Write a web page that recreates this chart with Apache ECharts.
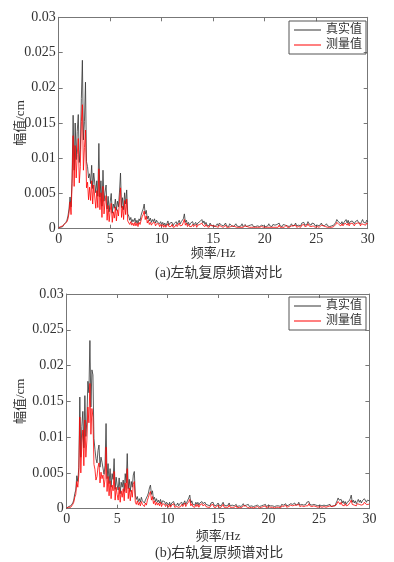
<!DOCTYPE html>
<html>
<head>
<meta charset="utf-8">
<script src="https://cdn.jsdelivr.net/npm/echarts@6/dist/echarts.min.js"></script>
<style>
  html, body { margin: 0; padding: 0; background: #fff; }
  #container { width: 394px; height: 562px; }
</style>
</head>
<body>
<div id="container"></div>
<script>
// frequency bins, 0.1 Hz from 0 to 30 Hz
var freq = [];
for (var k = 0; k <= 300; k++) { freq.push(+(k * 0.1).toFixed(1)); }

var xTicks = [0, 5, 10, 15, 20, 25, 30];
var yTicks = [0, 0.005, 0.01, 0.015, 0.02, 0.025, 0.03];
var legendNames = ['真实值', '测量值'];

// (a) left rail, amplitude in cm, one row = 1 Hz
var leftReal = [
  0.0002,0.0003,0.0002,0.0004,0.0003,0.0006,0.0005,0.0009,0.0012,0.0018,
  0.0028,0.0045,0.0031,0.0072,0.0161,0.0083,0.0150,0.0098,0.0138,0.0162,
  0.0094,0.0112,0.0185,0.0239,0.0126,0.0152,0.0208,0.0095,0.0088,0.0072,
  0.0078,0.0064,0.0090,0.0057,0.0079,0.0077,0.0051,0.0068,0.0046,0.0121,
  0.0045,0.0068,0.0032,0.0083,0.0039,0.0052,0.0062,0.0028,0.0046,0.0024,
  0.0038,0.0050,0.0022,0.0035,0.0029,0.0042,0.0026,0.0039,0.0031,0.0052,
  0.0079,0.0030,0.0044,0.0027,0.0051,0.0035,0.0055,0.0021,0.0018,0.0012,
  0.0016,0.0009,0.0013,0.0010,0.0015,0.0008,0.0012,0.0007,0.0014,0.0011,
  0.0019,0.0024,0.0028,0.0035,0.0021,0.0026,0.0014,0.0018,0.0011,0.0015,
  0.0009,0.0013,0.0010,0.0014,0.0008,0.0012,0.0009,0.0011,0.0007,0.0010,
  0.0006,0.0009,0.0005,0.0008,0.0004,0.0007,0.0011,0.0005,0.0008,0.0006,
  0.0009,0.0004,0.0007,0.0005,0.0010,0.0006,0.0008,0.0012,0.0007,0.0010,
  0.0008,0.0014,0.0021,0.0009,0.0012,0.0006,0.0009,0.0005,0.0008,0.0006,
  0.0010,0.0005,0.0007,0.0009,0.0005,0.0008,0.0006,0.0010,0.0009,0.0013,
  0.0008,0.0011,0.0006,0.0009,0.0005,0.0007,0.0004,0.0008,0.0005,0.0007,
  0.0004,0.0006,0.0003,0.0005,0.0007,0.0004,0.0008,0.0010,0.0005,0.0007,
  0.0004,0.0006,0.0008,0.0004,0.0006,0.0003,0.0007,0.0005,0.0004,0.0006,
  0.0003,0.0005,0.0007,0.0004,0.0006,0.0003,0.0005,0.0004,0.0007,0.0003,
  0.0004,0.0006,0.0003,0.0005,0.0004,0.0003,0.0005,0.0004,0.0006,0.0003,
  0.0004,0.0003,0.0005,0.0004,0.0006,0.0003,0.0004,0.0005,0.0003,0.0004,
  0.0006,0.0003,0.0005,0.0004,0.0007,0.0004,0.0005,0.0003,0.0006,0.0004,
  0.0005,0.0003,0.0006,0.0004,0.0008,0.0004,0.0005,0.0003,0.0006,0.0004,
  0.0005,0.0007,0.0004,0.0006,0.0003,0.0005,0.0007,0.0004,0.0006,0.0005,
  0.0008,0.0004,0.0006,0.0005,0.0007,0.0004,0.0008,0.0006,0.0009,0.0005,
  0.0007,0.0006,0.0010,0.0007,0.0009,0.0005,0.0008,0.0006,0.0007,0.0004,
  0.0006,0.0005,0.0007,0.0004,0.0006,0.0008,0.0005,0.0006,0.0004,0.0005,
  0.0007,0.0004,0.0005,0.0003,0.0005,0.0004,0.0003,0.0005,0.0004,0.0009,
  0.0013,0.0015,0.0009,0.0011,0.0007,0.0010,0.0006,0.0009,0.0011,0.0013,
  0.0008,0.0012,0.0007,0.0010,0.0008,0.0011,0.0013,0.0007,0.0010,0.0008,
  0.0012,0.0009,0.0011,0.0007,0.0010,0.0013,0.0009,0.0011,0.0008,0.0012,
  0.0010
];
var leftMeas = [
  0.0001,0.0002,0.0003,0.0002,0.0004,0.0003,0.0007,0.0005,0.0010,0.0014,
  0.0022,0.0038,0.0020,0.0064,0.0132,0.0060,0.0118,0.0072,0.0105,0.0128,
  0.0065,0.0088,0.0152,0.0176,0.0083,0.0115,0.0140,0.0058,0.0066,0.0041,
  0.0059,0.0040,0.0068,0.0035,0.0062,0.0061,0.0029,0.0054,0.0030,0.0085,
  0.0027,0.0051,0.0016,0.0060,0.0021,0.0038,0.0047,0.0012,0.0033,0.0010,
  0.0026,0.0036,0.0009,0.0024,0.0015,0.0031,0.0011,0.0027,0.0018,0.0039,
  0.0058,0.0016,0.0032,0.0013,0.0040,0.0020,0.0042,0.0011,0.0009,0.0006,
  0.0010,0.0005,0.0008,0.0004,0.0009,0.0004,0.0008,0.0003,0.0009,0.0006,
  0.0012,0.0017,0.0020,0.0025,0.0013,0.0018,0.0008,0.0012,0.0006,0.0009,
  0.0005,0.0008,0.0006,0.0009,0.0004,0.0007,0.0005,0.0007,0.0003,0.0006,
  0.0003,0.0006,0.0002,0.0005,0.0002,0.0004,0.0007,0.0003,0.0005,0.0003,
  0.0006,0.0002,0.0004,0.0003,0.0006,0.0003,0.0005,0.0008,0.0004,0.0006,
  0.0005,0.0009,0.0013,0.0005,0.0008,0.0003,0.0006,0.0003,0.0005,0.0003,
  0.0006,0.0003,0.0004,0.0006,0.0002,0.0005,0.0003,0.0006,0.0005,0.0008,
  0.0005,0.0007,0.0003,0.0006,0.0003,0.0004,0.0002,0.0005,0.0003,0.0004,
  0.0002,0.0004,0.0002,0.0003,0.0005,0.0002,0.0005,0.0006,0.0003,0.0004,
  0.0002,0.0004,0.0005,0.0002,0.0004,0.0002,0.0004,0.0003,0.0002,0.0004,
  0.0002,0.0003,0.0004,0.0002,0.0004,0.0002,0.0003,0.0002,0.0004,0.0002,
  0.0002,0.0004,0.0002,0.0003,0.0002,0.0002,0.0003,0.0002,0.0004,0.0002,
  0.0002,0.0002,0.0003,0.0002,0.0004,0.0002,0.0002,0.0003,0.0002,0.0002,
  0.0004,0.0002,0.0003,0.0002,0.0004,0.0002,0.0003,0.0002,0.0004,0.0002,
  0.0003,0.0002,0.0004,0.0002,0.0005,0.0002,0.0003,0.0002,0.0004,0.0002,
  0.0003,0.0005,0.0002,0.0004,0.0002,0.0003,0.0004,0.0002,0.0004,0.0003,
  0.0005,0.0002,0.0004,0.0003,0.0005,0.0002,0.0005,0.0004,0.0006,0.0003,
  0.0004,0.0004,0.0007,0.0004,0.0006,0.0003,0.0005,0.0004,0.0004,0.0002,
  0.0004,0.0003,0.0005,0.0002,0.0004,0.0005,0.0003,0.0004,0.0002,0.0003,
  0.0004,0.0002,0.0003,0.0002,0.0003,0.0002,0.0002,0.0003,0.0002,0.0006,
  0.0009,0.0010,0.0006,0.0008,0.0004,0.0007,0.0004,0.0006,0.0008,0.0009,
  0.0005,0.0008,0.0004,0.0007,0.0005,0.0008,0.0009,0.0004,0.0007,0.0005,
  0.0008,0.0006,0.0008,0.0004,0.0007,0.0009,0.0006,0.0008,0.0005,0.0008,
  0.0007
];

// (b) right rail
var rightReal = [
  0.0001,0.0002,0.0003,0.0002,0.0004,0.0005,0.0008,0.0012,0.0021,0.0026,
  0.0046,0.0038,0.0058,0.0156,0.0072,0.0115,0.0136,0.0085,0.0158,0.0101,
  0.0124,0.0178,0.0162,0.0235,0.0142,0.0194,0.0187,0.0098,0.0083,0.0070,
  0.0064,0.0081,0.0089,0.0058,0.0072,0.0065,0.0067,0.0048,0.0060,0.0119,
  0.0042,0.0063,0.0035,0.0056,0.0030,0.0049,0.0041,0.0070,0.0027,0.0044,
  0.0033,0.0026,0.0043,0.0021,0.0037,0.0030,0.0040,0.0024,0.0049,0.0036,
  0.0077,0.0028,0.0041,0.0024,0.0038,0.0030,0.0047,0.0052,0.0019,0.0013,
  0.0017,0.0010,0.0014,0.0009,0.0016,0.0011,0.0013,0.0008,0.0012,0.0010,
  0.0018,0.0022,0.0029,0.0033,0.0020,0.0025,0.0013,0.0016,0.0010,0.0014,
  0.0009,0.0012,0.0008,0.0013,0.0007,0.0011,0.0009,0.0010,0.0006,0.0009,
  0.0007,0.0005,0.0009,0.0004,0.0008,0.0006,0.0010,0.0005,0.0007,0.0005,
  0.0008,0.0004,0.0007,0.0006,0.0009,0.0005,0.0008,0.0011,0.0006,0.0009,
  0.0012,0.0015,0.0019,0.0008,0.0011,0.0006,0.0008,0.0005,0.0009,0.0006,
  0.0009,0.0005,0.0008,0.0006,0.0010,0.0007,0.0005,0.0009,0.0006,0.0008,
  0.0005,0.0007,0.0004,0.0008,0.0006,0.0009,0.0005,0.0007,0.0004,0.0006,
  0.0008,0.0005,0.0007,0.0004,0.0006,0.0009,0.0005,0.0007,0.0004,0.0006,
  0.0005,0.0008,0.0004,0.0006,0.0005,0.0007,0.0004,0.0005,0.0006,0.0003,
  0.0005,0.0004,0.0006,0.0003,0.0005,0.0007,0.0004,0.0006,0.0005,0.0004,
  0.0006,0.0003,0.0005,0.0004,0.0006,0.0003,0.0005,0.0004,0.0003,0.0005,
  0.0004,0.0003,0.0005,0.0004,0.0003,0.0005,0.0004,0.0006,0.0003,0.0004,
  0.0005,0.0003,0.0004,0.0006,0.0004,0.0005,0.0003,0.0005,0.0004,0.0006,
  0.0004,0.0005,0.0003,0.0006,0.0004,0.0005,0.0004,0.0007,0.0004,0.0006,
  0.0005,0.0004,0.0007,0.0005,0.0006,0.0004,0.0008,0.0005,0.0007,0.0006,
  0.0009,0.0005,0.0007,0.0006,0.0008,0.0005,0.0007,0.0006,0.0009,0.0007,
  0.0010,0.0006,0.0008,0.0005,0.0007,0.0006,0.0008,0.0005,0.0007,0.0004,
  0.0006,0.0005,0.0007,0.0004,0.0006,0.0005,0.0007,0.0004,0.0006,0.0005,
  0.0004,0.0006,0.0003,0.0005,0.0004,0.0006,0.0004,0.0008,0.0011,0.0015,
  0.0012,0.0010,0.0013,0.0008,0.0011,0.0007,0.0010,0.0006,0.0009,0.0008,
  0.0011,0.0014,0.0019,0.0009,0.0012,0.0008,0.0011,0.0007,0.0010,0.0013,
  0.0009,0.0012,0.0008,0.0011,0.0010,0.0014,0.0015,0.0009,0.0012,0.0010,
  0.0011
];
var rightMeas = [
  0.0001,0.0001,0.0002,0.0003,0.0002,0.0004,0.0006,0.0009,0.0016,0.0020,
  0.0038,0.0030,0.0047,0.0128,0.0050,0.0092,0.0110,0.0060,0.0124,0.0072,
  0.0096,0.0142,0.0120,0.0175,0.0104,0.0140,0.0128,0.0062,0.0055,0.0040,
  0.0045,0.0058,0.0064,0.0036,0.0051,0.0042,0.0047,0.0030,0.0041,0.0086,
  0.0024,0.0045,0.0018,0.0039,0.0014,0.0033,0.0025,0.0052,0.0012,0.0030,
  0.0020,0.0012,0.0030,0.0009,0.0025,0.0016,0.0028,0.0011,0.0036,0.0022,
  0.0056,0.0014,0.0029,0.0011,0.0026,0.0016,0.0034,0.0038,0.0009,0.0006,
  0.0011,0.0005,0.0009,0.0004,0.0010,0.0006,0.0008,0.0003,0.0008,0.0005,
  0.0012,0.0016,0.0021,0.0024,0.0012,0.0017,0.0007,0.0011,0.0005,0.0009,
  0.0005,0.0008,0.0004,0.0009,0.0003,0.0007,0.0005,0.0006,0.0003,0.0006,
  0.0004,0.0002,0.0006,0.0002,0.0005,0.0003,0.0007,0.0002,0.0004,0.0003,
  0.0005,0.0002,0.0004,0.0003,0.0006,0.0003,0.0005,0.0008,0.0003,0.0006,
  0.0008,0.0010,0.0013,0.0004,0.0007,0.0003,0.0005,0.0002,0.0006,0.0003,
  0.0006,0.0002,0.0005,0.0003,0.0007,0.0004,0.0002,0.0006,0.0003,0.0005,
  0.0002,0.0004,0.0002,0.0005,0.0003,0.0006,0.0002,0.0004,0.0002,0.0003,
  0.0005,0.0002,0.0004,0.0002,0.0003,0.0006,0.0002,0.0004,0.0002,0.0003,
  0.0002,0.0005,0.0002,0.0003,0.0002,0.0004,0.0002,0.0003,0.0004,0.0001,
  0.0003,0.0002,0.0004,0.0001,0.0003,0.0004,0.0002,0.0004,0.0003,0.0002,
  0.0004,0.0001,0.0003,0.0002,0.0004,0.0001,0.0003,0.0002,0.0001,0.0003,
  0.0002,0.0001,0.0003,0.0002,0.0001,0.0003,0.0002,0.0004,0.0001,0.0002,
  0.0003,0.0001,0.0002,0.0004,0.0002,0.0003,0.0001,0.0003,0.0002,0.0004,
  0.0002,0.0003,0.0001,0.0004,0.0002,0.0003,0.0002,0.0005,0.0002,0.0004,
  0.0003,0.0002,0.0005,0.0003,0.0004,0.0002,0.0005,0.0003,0.0005,0.0004,
  0.0006,0.0003,0.0005,0.0004,0.0005,0.0003,0.0005,0.0004,0.0006,0.0004,
  0.0007,0.0004,0.0005,0.0003,0.0005,0.0004,0.0005,0.0003,0.0005,0.0002,
  0.0004,0.0003,0.0005,0.0002,0.0004,0.0003,0.0005,0.0002,0.0004,0.0003,
  0.0002,0.0004,0.0002,0.0003,0.0002,0.0004,0.0002,0.0005,0.0007,0.0010,
  0.0008,0.0006,0.0009,0.0005,0.0007,0.0004,0.0007,0.0004,0.0006,0.0005,
  0.0007,0.0009,0.0012,0.0006,0.0008,0.0005,0.0007,0.0004,0.0007,0.0009,
  0.0006,0.0008,0.0005,0.0007,0.0006,0.0009,0.0010,0.0006,0.0008,0.0006,
  0.0007
];
</script>
<script>
var SERIF = '"Liberation Serif", "Noto Sans CJK SC", serif';
var TXT = '#333';
var FRAME = '#777';

function pairs(vals){
  var arr = [];
  for (var i = 0; i < freq.length; i++) { arr.push([freq[i], vals[i]]); }
  return arr;
}

function xAx(grid, pos, labels, gap){
  return {
    type: 'value', gridIndex: grid, position: pos,
    min: xTicks[0], max: xTicks[xTicks.length - 1], interval: 5,
    name: labels ? '频率/Hz' : '', nameLocation: 'middle', nameGap: gap, nameMoveOverlap: false,
    nameTextStyle: { fontFamily: SERIF, fontSize: 13, color: TXT },
    axisLine: { show: true, onZero: false, lineStyle: { color: FRAME, width: 1 } },
    axisTick: { show: true, inside: true, length: 4, lineStyle: { color: FRAME } },
    axisLabel: { show: labels, margin: 4, fontFamily: SERIF, fontSize: 14, color: TXT },
    splitLine: { show: false }
  };
}
function yAx(grid, pos, labels, gap){
  return {
    type: 'value', gridIndex: grid, position: pos,
    min: yTicks[0], max: yTicks[yTicks.length - 1], interval: 0.005,
    name: labels ? '幅值/cm' : '', nameLocation: 'middle', nameRotate: 90, nameGap: gap, nameMoveOverlap: false,
    nameTextStyle: { fontFamily: SERIF, fontSize: 13, color: TXT },
    axisLine: { show: true, onZero: false, lineStyle: { color: FRAME, width: 1 } },
    axisTick: { show: true, inside: true, length: 4, lineStyle: { color: FRAME } },
    axisLabel: { show: labels, margin: 3, fontFamily: SERIF, fontSize: 14, color: TXT },
    splitLine: { show: false }
  };
}
function line(name, x, y, vals, color){
  return {
    name: name, type: 'line', xAxisIndex: x, yAxisIndex: y,
    data: pairs(vals), showSymbol: false, symbol: 'none',
    lineStyle: { color: color, width: 0.8 }, itemStyle: { color: color },
    silent: true
  };
}
function legendBox(top){
  return {
    data: legendNames, orient: 'vertical', left: 289, top: top,
    icon: 'rect', itemWidth: 27, itemHeight: 1, itemGap: 3,
    padding: [3, 4, 3, 5], borderColor: '#555', borderWidth: 1,
    textStyle: { fontFamily: SERIF, fontSize: 12, color: TXT },
    selectedMode: false
  };
}

var myChart = echarts.init(document.getElementById('container'), null, { renderer: 'canvas' });
var option = {
  backgroundColor: '#fff',
  animation: false,
  grid: [
    { left: 58.7, top: 17.3, width: 309, height: 211.4, outerBoundsMode: 'none', containLabel: false },
    { left: 66.7, top: 294, width: 302.7, height: 214.7, outerBoundsMode: 'none', containLabel: false }
  ],
  xAxis: [ xAx(0, 'bottom', true, 18), xAx(0, 'top', false, 0),
           xAx(1, 'bottom', true, 21), xAx(1, 'top', false, 0) ],
  yAxis: [ yAx(0, 'left', true, 32), yAx(0, 'right', false, 0),
           yAx(1, 'left', true, 40), yAx(1, 'right', false, 0) ],
  legend: [ legendBox(21), legendBox(297) ],
  series: [
    line(legendNames[0], 0, 0, leftReal, '#333'),
    line(legendNames[1], 0, 0, leftMeas, '#ff0000'),
    line(legendNames[0], 2, 2, rightReal, '#333'),
    line(legendNames[1], 2, 2, rightMeas, '#ff0000')
  ],
  graphic: [
    { type: 'text', left: 155, top: 266, style: { text: '(a)左轨复原频谱对比', font: '14px ' + SERIF, fill: TXT } },
    { type: 'text', left: 155, top: 546, style: { text: '(b)右轨复原频谱对比', font: '14px ' + SERIF, fill: TXT } }
  ]
};
myChart.setOption(option);
</script>
</body>
</html>
